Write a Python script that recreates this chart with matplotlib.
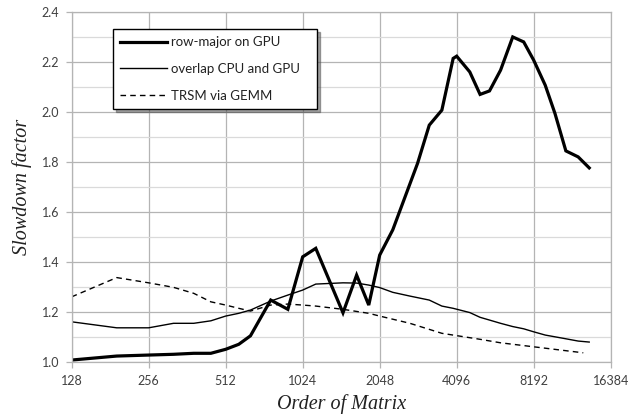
import matplotlib
matplotlib.use("Agg")
import matplotlib.pyplot as plt
from matplotlib.lines import Line2D
from matplotlib.legend_handler import HandlerLine2D
from matplotlib.ticker import FixedLocator, FixedFormatter, MultipleLocator

# matrix order (x) and slowdown factor (y) per series
row_major_n = [128, 192, 256, 320, 384, 448, 512, 576, 640, 768, 896, 1024, 1152,
               1472, 1664, 1856, 2048, 2304, 2880, 3200, 3584, 3968, 4096, 4608,
               5056, 5504, 6080, 6784, 7488, 8192, 9088, 9920, 10944, 12224, 13504]
row_major = [1.009, 1.025, 1.029, 1.032, 1.036, 1.036, 1.052, 1.072, 1.106, 1.249,
             1.212, 1.422, 1.456, 1.198, 1.349, 1.229, 1.429, 1.530, 1.796, 1.949,
             2.009, 2.216, 2.225, 2.162, 2.072, 2.086, 2.169, 2.302, 2.282, 2.209,
             2.109, 1.996, 1.846, 1.822, 1.778]

overlap_n = [128, 192, 256, 320, 384, 448, 512, 576, 640, 768, 896, 1024, 1152,
             1472, 1664, 1856, 2048, 2304, 2688, 3200, 3584, 3968, 4608, 5056,
             5504, 6080, 6784, 7488, 8192, 9088, 10688, 12224, 13504]
overlap = [1.162, 1.138, 1.138, 1.156, 1.156, 1.166, 1.185, 1.196, 1.209, 1.245,
           1.269, 1.289, 1.313, 1.318, 1.317, 1.309, 1.299, 1.280, 1.265, 1.249,
           1.225, 1.216, 1.199, 1.180, 1.169, 1.156, 1.143, 1.134, 1.122, 1.109,
           1.096, 1.085, 1.081]

trsm_n = [128, 192, 256, 320, 384, 448, 512, 576, 640, 768, 896, 1024, 1152,
          1472, 1856, 2048, 2688, 3584, 5056, 6080, 8192, 12800]
trsm = [1.262, 1.339, 1.318, 1.300, 1.276, 1.242, 1.229, 1.216, 1.205, 1.229,
        1.233, 1.229, 1.225, 1.212, 1.196, 1.185, 1.156, 1.116, 1.092, 1.078,
        1.062, 1.038]

x_ticks = [128, 256, 512, 1024, 2048, 4096, 8192, 16384]


# legend lines start a bit inside the handle box (Excel-style left margin)
class PaddedLine(HandlerLine2D):
    def create_artists(self, legend, orig_handle, xdescent, ydescent, width,
                       height, fontsize, trans):
        arts = super().create_artists(legend, orig_handle, xdescent, ydescent,
                                      width, height, fontsize, trans)
        for a in arts:
            xd = a.get_xdata()
            if len(xd) == 2:
                a.set_xdata([xd[0] + 0.74 * fontsize, xd[1]])
        return arts


fig = plt.figure(figsize=(6.36, 4.15), dpi=100)
ax = fig.add_axes([0.1127, 0.127, 0.8475, 0.843])

ax.plot(row_major_n, row_major, color="black", lw=2.3, label="row-major on GPU   ",
        solid_joinstyle="miter")
ax.plot(overlap_n, overlap, color="black", lw=1.0, label="overlap CPU and GPU   ")
ax.plot(trsm_n, trsm, color="black", lw=1.0, ls=(0, (4, 3)), label="TRSM via GEMM   ")

ax.set_xscale("log", base=2)
ax.set_xlim(128, 16384)
ax.set_ylim(1.0, 2.4)
ax.xaxis.set_major_locator(FixedLocator(x_ticks))
ax.xaxis.set_major_formatter(FixedFormatter([str(t) for t in x_ticks]))
ax.xaxis.set_minor_locator(FixedLocator([]))
ax.yaxis.set_major_locator(MultipleLocator(0.2))
ax.yaxis.set_minor_locator(MultipleLocator(0.1))
ax.yaxis.set_major_formatter(plt.FuncFormatter(lambda v, p: f"{v:.1f}"))

ax.grid(which="major", color="#b4b4b4", lw=0.9)
ax.grid(which="minor", axis="y", color="#dadada", lw=0.9)
ax.set_axisbelow(True)
for s in ax.spines.values():
    s.set_color("#b4b4b4")
    s.set_linewidth(0.9)

ax.tick_params(which="major", length=4, width=0.9, color="#b4b4b4",
               labelsize=9, labelcolor="#404040", pad=5)
ax.tick_params(which="minor", length=0)
for lab in ax.get_xticklabels() + ax.get_yticklabels():
    lab.set_family("Lato")

ax.set_xlabel("Order of Matrix", family="Liberation Serif", style="italic",
              fontsize=14.5, color="#222222", labelpad=5)
ax.set_ylabel("Slowdown factor", family="Liberation Serif", style="italic",
              fontsize=14.5, color="#222222", labelpad=7)

leg = ax.legend(loc="upper left", bbox_to_anchor=(0.0766, 0.952), borderaxespad=0,
                frameon=True, fancybox=False, shadow=True, edgecolor="black",
                framealpha=1, prop={"family": "Lato", "size": 9.5},
                handlelength=3.54, handletextpad=0.3, labelspacing=1.1,
                borderpad=0.55, handler_map={Line2D: PaddedLine()})
leg.get_frame().set_linewidth(1.0)
for t in leg.get_texts():
    t.set_color("#222222")

fig.savefig("out.png", dpi=100)
